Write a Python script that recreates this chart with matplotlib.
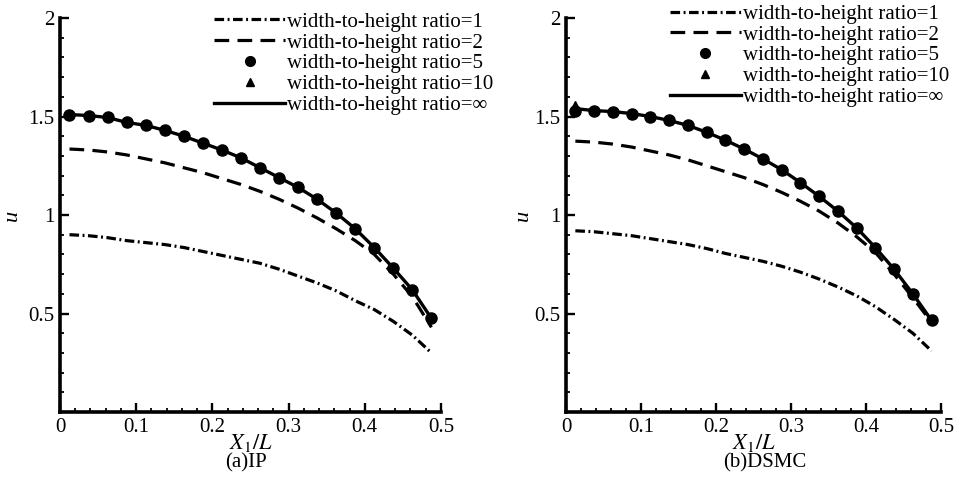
import matplotlib
matplotlib.use("Agg")
import matplotlib.pyplot as plt
from matplotlib.lines import Line2D
from matplotlib.ticker import MultipleLocator, FuncFormatter

plt.rcParams['font.family'] = ['Liberation Serif', 'DejaVu Serif']
plt.rcParams['mathtext.fontset'] = 'stix'

# cell centres along X1/L
x_pts = [0.0125, 0.0375, 0.0625, 0.0875, 0.1125, 0.1375, 0.1625, 0.1875, 0.2125, 0.2375,
         0.2625, 0.2875, 0.3125, 0.3375, 0.3625, 0.3875, 0.4125, 0.4375, 0.4625, 0.4875]

# (a) IP
ip_r1 = [0.90, 0.895, 0.885, 0.87, 0.86, 0.85, 0.835, 0.815, 0.795, 0.775,
         0.755, 0.725, 0.69, 0.655, 0.615, 0.565, 0.52, 0.46, 0.39, 0.30]
ip_r2 = [1.335, 1.33, 1.32, 1.305, 1.285, 1.265, 1.24, 1.215, 1.185, 1.155,
         1.12, 1.08, 1.035, 0.985, 0.93, 0.87, 0.80, 0.70, 0.585, 0.43]
ip_r5 = [1.51, 1.505, 1.495, 1.47, 1.455, 1.43, 1.40, 1.365, 1.33, 1.29,
         1.24, 1.19, 1.14, 1.08, 1.01, 0.93, 0.835, 0.73, 0.62, 0.475]
ip_r10 = [1.51, 1.505, 1.495, 1.47, 1.455, 1.43, 1.40, 1.365, 1.33, 1.29,
          1.24, 1.19, 1.14, 1.08, 1.01, 0.93, 0.835, 0.73, 0.62, 0.48]
ip_inf = [1.51, 1.505, 1.495, 1.47, 1.455, 1.43, 1.40, 1.365, 1.33, 1.29,
          1.24, 1.19, 1.14, 1.08, 1.01, 0.93, 0.835, 0.73, 0.62, 0.475]

# (b) DSMC
ds_r1 = [0.92, 0.915, 0.905, 0.895, 0.88, 0.865, 0.85, 0.83, 0.805, 0.785,
         0.765, 0.74, 0.71, 0.675, 0.635, 0.59, 0.535, 0.47, 0.40, 0.31]
ds_r2 = [1.375, 1.37, 1.36, 1.345, 1.325, 1.305, 1.28, 1.25, 1.22, 1.19,
         1.155, 1.115, 1.07, 1.02, 0.96, 0.89, 0.81, 0.70, 0.58, 0.455]
ds_r5 = [1.53, 1.53, 1.525, 1.515, 1.50, 1.48, 1.455, 1.42, 1.38, 1.335,
         1.285, 1.23, 1.165, 1.095, 1.02, 0.935, 0.835, 0.725, 0.60, 0.465]
ds_r10 = [1.56, 1.535, 1.525, 1.515, 1.50, 1.48, 1.455, 1.42, 1.38, 1.335,
          1.285, 1.23, 1.165, 1.095, 1.02, 0.935, 0.835, 0.725, 0.60, 0.47]
ds_inf = [1.54, 1.53, 1.525, 1.515, 1.50, 1.48, 1.455, 1.42, 1.38, 1.335,
          1.285, 1.23, 1.165, 1.095, 1.02, 0.935, 0.835, 0.725, 0.60, 0.465]

labels = ['width-to-height ratio=1', 'width-to-height ratio=2', 'width-to-height ratio=5',
          'width-to-height ratio=10', 'width-to-height ratio=\u221e']
captions = ['(a)IP', '(b)DSMC']

DASHDOT = (0, (3.0, 1.1, 0.6, 1.1))
DASHED = (0, (4.6, 2.6))


def draw_panel(ax, r1, r2, r5, r10, rinf, leg_anchor, ylab_x):
    ax.plot(x_pts, r1, color='black', lw=2.3, linestyle=DASHDOT)
    ax.plot(x_pts, r2, color='black', lw=2.3, linestyle=DASHED)
    ax.plot(x_pts, rinf, color='black', lw=2.4, linestyle='-')
    ax.plot(x_pts, r10, linestyle='none', marker='^', ms=6, color='black')
    ax.plot(x_pts, r5, linestyle='none', marker='o', ms=8, color='black')

    ax.set_xlim(0, 0.5)
    ax.set_ylim(0, 2)
    ax.set_xticks([0, 0.1, 0.2, 0.3, 0.4, 0.5])
    ax.set_yticks([0.5, 1, 1.5, 2])
    ax.xaxis.set_minor_locator(MultipleLocator(0.02))
    ax.yaxis.set_minor_locator(MultipleLocator(0.1))
    fmt = FuncFormatter(lambda v, p: '%g' % v)
    ax.xaxis.set_major_formatter(fmt)
    ax.yaxis.set_major_formatter(fmt)
    ax.tick_params(which='major', direction='in', length=6.5, width=1.7, labelsize=15, pad=4)
    ax.tick_params(which='minor', direction='in', length=3.2, width=1.3)

    for s in ['top', 'right']:
        ax.spines[s].set_visible(False)
    for s in ['left', 'bottom']:
        ax.spines[s].set_linewidth(2.6)

    ax.set_xlabel('$X_1/L$', fontsize=16, labelpad=-3)
    ax.set_ylabel('u', fontsize=16, style='italic')
    ax.yaxis.set_label_coords(ylab_x, 0.5)

    handles = [
        Line2D([], [], color='black', lw=2.3, linestyle=DASHDOT),
        Line2D([], [], color='black', lw=2.3, linestyle=DASHED),
        Line2D([], [], color='black', linestyle='none', marker='o', ms=7,
               mfc='black', mec='black'),
        Line2D([], [], color='black', linestyle='none', marker='^', ms=6),
        Line2D([], [], color='black', lw=2.4),
    ]
    ax.legend(handles, labels, loc='upper left', bbox_to_anchor=leg_anchor,
              frameon=False, fontsize=15, handlelength=3.4, handletextpad=0.1,
              labelspacing=0.06, borderpad=0, borderaxespad=0, numpoints=1)


fig = plt.figure(figsize=(9.58, 4.88), dpi=100)
ax1 = fig.add_axes([0.0626, 0.1557, 0.3977, 0.8074])
ax2 = fig.add_axes([0.5908, 0.1557, 0.3914, 0.8074])

draw_panel(ax1, ip_r1, ip_r2, ip_r5, ip_r10, ip_inf, (0.405, 1.015), -0.10)
draw_panel(ax2, ds_r1, ds_r2, ds_r5, ds_r10, ds_inf, (0.277, 1.035), -0.088)

fig.text(246 / 958, 1 - 463 / 488, captions[0], ha='center', va='center', fontsize=15)
fig.text(765 / 958, 1 - 463 / 488, captions[1], ha='center', va='center', fontsize=15)

fig.savefig('out.png', dpi=100)
